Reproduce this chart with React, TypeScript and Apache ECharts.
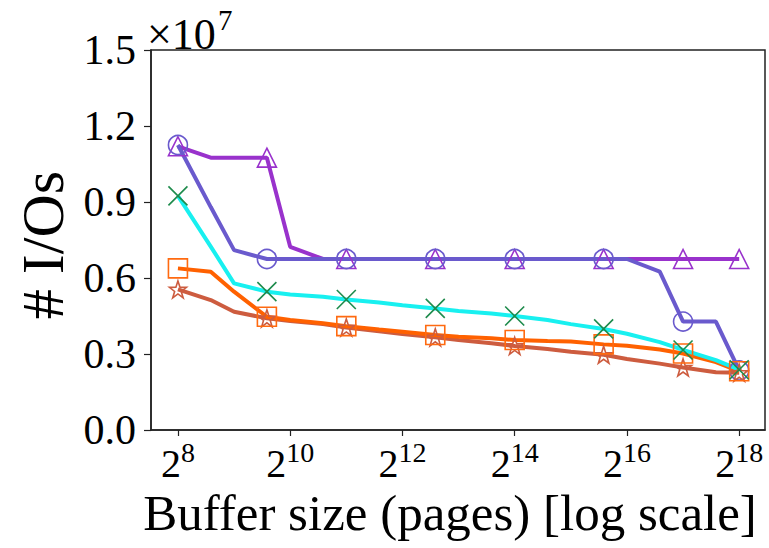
import React, { useEffect, useRef } from "react";
import * as echarts from "echarts";

// Buffer sizes (pages) at which each line has a vertex
const bufferPages = [
  256, 384, 512, 768, 1024, 1536, 2048, 3072, 4096, 6144, 8192, 12288, 16384,
  24576, 32768, 49152, 65536, 98304, 131072, 196608, 262144,
];
// indices of points that carry a marker
const markerIdx = [0, 3, 6, 9, 12, 15, 18, 20];

const xTicks = [256, 1024, 4096, 16384, 65536, 262144];

// # I/Os per series
const triangleIOs = [
  11.2e6, 10.75e6, 10.75e6, 10.75e6, 7.23e6, 6.75e6, 6.75e6, 6.75e6, 6.75e6,
  6.75e6, 6.75e6, 6.75e6, 6.75e6, 6.75e6, 6.75e6, 6.75e6, 6.75e6, 6.75e6,
  6.75e6, 6.75e6, 6.75e6,
];
const circleIOs = [
  11.25e6, 8.8e6, 7.1e6, 6.75e6, 6.75e6, 6.75e6, 6.75e6, 6.75e6, 6.75e6,
  6.75e6, 6.75e6, 6.75e6, 6.75e6, 6.75e6, 6.75e6, 6.75e6, 6.75e6, 6.25e6,
  4.28e6, 4.28e6, 2.35e6,
];
const crossIOs = [
  9.24e6, 7.24e6, 5.79e6, 5.46e6, 5.35e6, 5.26e6, 5.15e6, 5.03e6, 4.92e6,
  4.8e6, 4.7e6, 4.6e6, 4.5e6, 4.34e6, 4.18e6, 3.99e6, 3.8e6, 3.47e6, 3.16e6,
  2.76e6, 2.38e6,
];
const squareIOs = [
  6.38e6, 6.25e6, 5.46e6, 4.47e6, 4.34e6, 4.21e6, 4.1e6, 3.97e6, 3.88e6,
  3.75e6, 3.68e6, 3.62e6, 3.55e6, 3.51e6, 3.49e6, 3.38e6, 3.33e6, 3.18e6,
  3.02e6, 2.68e6, 2.32e6,
];
const starIOs = [
  5.55e6, 5.13e6, 4.67e6, 4.41e6, 4.3e6, 4.18e6, 4.05e6, 3.9e6, 3.79e6, 3.66e6,
  3.55e6, 3.42e6, 3.32e6, 3.2e6, 3.09e6, 2.97e6, 2.8e6, 2.62e6, 2.47e6, 2.28e6,
  2.26e6,
];

const FONT = "Liberation Serif";

function starSymbol(): string {
  const pts: string[] = [];
  for (let k = 0; k < 10; k++) {
    const a = -Math.PI / 2 + (k * Math.PI) / 5;
    const r = k % 2 === 0 ? 10 : 3.9;
    pts.push(`${(10 + r * Math.cos(a)).toFixed(2)},${(10 + r * Math.sin(a)).toFixed(2)}`);
  }
  return "path://M" + pts.join("L") + "Z";
}
const X_SYMBOL = "path://M0,0L20,20M20,0L0,20";

function makeSeries(
  name: string,
  values: number[],
  lineColor: string,
  edgeColor: string,
  symbol: string,
  size: number
) {
  return {
    type: "line",
    name,
    data: values.map((v, i) => ({
      value: [bufferPages[i], v],
      symbol: markerIdx.includes(i) ? symbol : "none",
    })),
    symbolSize: size,
    showSymbol: true,
    lineStyle: { color: lineColor, width: 4 },
    itemStyle: {
      color: "rgba(0,0,0,0)",
      borderColor: edgeColor,
      borderWidth: 1.6,
    },
    emphasis: { disabled: true },
    silent: true,
  };
}

const richTick = {
  b: { fontFamily: FONT, fontSize: 40, lineHeight: 50, color: "#000" },
  s: {
    fontFamily: FONT,
    fontSize: 28,
    lineHeight: 27,
    verticalAlign: "top",
    color: "#000",
  },
};

export default function App() {
  const ref = useRef<HTMLDivElement>(null);
  useEffect(() => {
    if (!ref.current) return;
    const chart = echarts.init(ref.current, null, { renderer: "svg" });
    chart.setOption({
      animation: false,
      backgroundColor: "#fff",
      grid: {
        left: 151,
        right: 4,
        top: 50,
        bottom: 118,
        containLabel: false,
        outerBoundsMode: "none",
        show: true,
        borderColor: "#222",
        borderWidth: 1.5,
        backgroundColor: "transparent",
      },
      xAxis: {
        type: "log",
        logBase: 2,
        min: Math.pow(2, 7.52),
        max: Math.pow(2, 18.46),
        name: "Buffer size (pages) [log scale]",
        nameLocation: "middle",
        nameGap: 55,
        nameTextStyle: {
          fontFamily: FONT,
          fontSize: 51,
          color: "#000",
          padding: [0, 16, 0, 0],
        },
        axisLine: { show: true, lineStyle: { color: "#222", width: 1.5 } },
        axisTick: {
          show: true,
          customValues: xTicks,
          length: 6,
          lineStyle: { color: "#222", width: 1.2 },
        },
        axisLabel: {
          customValues: xTicks,
          margin: 8,
          formatter: (v: number) => `{b|2}{s|${Math.round(Math.log2(v))}}`,
          rich: richTick,
        },
        splitLine: { show: false },
        minorTick: { show: false },
      },
      yAxis: {
        type: "value",
        min: 0,
        max: 15e6,
        interval: 3e6,
        name: "# I/Os",
        nameLocation: "middle",
        nameRotate: 90,
        nameGap: 70,
        nameTextStyle: {
          fontFamily: FONT,
          fontSize: 60,
          color: "#000",
          padding: [0, 10, 0, 0],
        },
        axisLine: { show: true, lineStyle: { color: "#222", width: 1.5 } },
        axisTick: {
          show: true,
          length: 7,
          lineStyle: { color: "#222", width: 1.2 },
        },
        axisLabel: {
          margin: 15,
          fontFamily: FONT,
          fontSize: 42,
          color: "#000",
          formatter: (v: number) => (v / 1e7).toFixed(1),
        },
        splitLine: { show: false },
      },
      graphic: [
        {
          type: "text",
          left: 147,
          top: 12,
          style: {
            text: "×10",
            fontFamily: FONT,
            fontSize: 44,
            fontWeight: "normal",
            fill: "#000",
          },
        },
        {
          type: "text",
          left: 218,
          top: 5,
          style: {
            text: "7",
            fontFamily: FONT,
            fontSize: 29,
            fontWeight: "normal",
            fill: "#000",
          },
        },
      ],
      series: [
        makeSeries("triangle", triangleIOs, "#9932CC", "#9932CC", "triangle", 19),
        makeSeries("circle", circleIOs, "#6A5ACD", "#6A5ACD", "circle", 19),
        makeSeries("star", starIOs, "#CD5C3F", "#CD5C3F", starSymbol(), 17),
        makeSeries("square", squareIOs, "#FF6100", "#FF6A10", "rect", 19),
        makeSeries("cross", crossIOs, "#18F0F0", "#1E8B4C", X_SYMBOL, 19),
      ],
    });
    return () => chart.dispose();
  }, []);
  return (
    <div
      ref={ref}
      style={{ position: "fixed", left: 0, top: 0, width: 769, height: 548 }}
    />
  );
}
